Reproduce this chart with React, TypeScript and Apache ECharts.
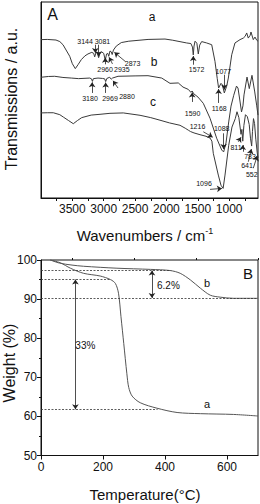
import React, { useEffect, useRef } from "react";
import * as echarts from "echarts";

const FONT = "'Liberation Sans', Arial, Helvetica, sans-serif";
const INK = "#111";

// ---------- Panel A : FTIR spectra [wavenumber (cm-1), transmission (a.u.)] ----------
const spectrumA: number[][] = [
  [4000, 80.8], [3900, 80.9], [3761, 80.6], [3700, 79.8], [3649, 78.2], [3600, 75.5], [3542, 72.3],
  [3500, 68.5], [3453, 66.0], [3410, 68.0], [3357, 70.6], [3300, 72.5], [3251, 73.5], [3190, 74.3],
  [3160, 73.8], [3144, 72.0], [3125, 74.0], [3105, 74.4], [3081, 71.6], [3060, 73.8], [3030, 74.5],
  [3000, 73.8], [2975, 70.2], [2955, 73.5], [2935, 73.8], [2920, 72.3], [2900, 75.0], [2880, 74.6],
  [2865, 73.2], [2845, 75.5], [2800, 77.5], [2720, 79.3], [2600, 80.0], [2293, 80.9], [2023, 81.1],
  [1900, 80.5], [1677, 79.1], [1610, 78.8], [1585, 77.0], [1572, 73.0], [1560, 77.5], [1544, 80.0],
  [1515, 79.0], [1492, 73.5], [1470, 78.0], [1438, 79.8], [1358, 79.1], [1278, 78.2], [1226, 69.7],
  [1190, 61.0], [1168, 56.1], [1130, 58.5], [1109, 57.8], [1077, 53.6], [1040, 57.0], [1013, 61.2],
  [959, 73.1], [907, 79.1], [827, 80.8], [774, 81.6], [745, 82.5], [720, 84.2], [695, 81.6],
  [665, 83.0], [652, 84.7], [615, 80.8], [588, 82.1], [560, 80.5], [540, 80.0],
];

const spectrumB: number[][] = [
  [4000, 61.6], [3880, 62.0], [3782, 62.1], [3650, 61.5], [3517, 61.2], [3400, 60.9], [3223, 61.2],
  [3195, 60.8], [3180, 59.5], [3165, 60.9], [3091, 61.2], [3020, 61.0], [2985, 60.8], [2969, 59.4],
  [2950, 61.0], [2905, 61.6], [2880, 60.6], [2860, 61.2], [2772, 62.1], [2500, 62.3], [2294, 62.4],
  [2075, 61.2], [1943, 58.5], [1811, 58.7], [1736, 56.6], [1651, 55.4], [1610, 53.9], [1590, 54.6],
  [1565, 53.2], [1497, 51.5], [1412, 48.3], [1305, 40.7], [1199, 30.5], [1119, 24.5], [1088, 23.5],
  [1050, 28.1], [1007, 38.8], [970, 46.9], [927, 52.4], [883, 57.1], [859, 56.1], [830, 50.0],
  [803, 43.9], [780, 47.0], [763, 52.6], [715, 61.7], [679, 55.8], [636, 62.6], [592, 54.1],
  [560, 47.0], [540, 42.3],
];

const spectrumC: number[][] = [
  [4000, 43.4], [3900, 43.5], [3804, 43.5], [3700, 42.5], [3644, 41.3], [3560, 39.5], [3485, 37.9],
  [3420, 39.5], [3351, 41.0], [3200, 42.3], [3059, 42.7], [2900, 43.2], [2688, 43.4], [2421, 42.2],
  [2250, 41.0], [2103, 39.7], [1950, 38.3], [1784, 37.1], [1700, 35.6], [1651, 34.6], [1616, 33.9],
  [1560, 33.2], [1465, 32.3], [1369, 31.5], [1305, 30.6], [1275, 29.0], [1253, 22.8], [1173, 11.7],
  [1130, 6.5], [1096, 4.9], [1066, 11.7], [1007, 26.9], [955, 36.2], [902, 40.5], [875, 44.0],
  [845, 41.0], [811, 32.5], [797, 35.0], [783, 29.0], [765, 37.0], [740, 42.5], [710, 41.5],
  [680, 37.5], [660, 30.5], [641, 26.5], [628, 34.0], [612, 40.5], [595, 38.0], [575, 30.0],
  [552, 23.0], [540, 20.5],
];

const tickValuesA = [3750, 3500, 3250, 3000, 2750, 2500, 2250, 2000, 1750, 1500, 1250, 1000, 750];
const labelValuesA = [3500, 3000, 2500, 2000, 1500, 1000];

// peak annotations: [text, wavenumber, transmission]
const peakLabelsA: [string, number, number][] = [
  ["3144", 3298, 80.0], ["3081", 3020, 80.0], ["2960", 2978, 65.5], ["2935", 2712, 65.5],
  ["2873", 2540, 68.4], ["3180", 3219, 51.0], ["2969", 2900, 51.0], ["2880", 2629, 51.9],
  ["1572", 1520, 65.5], ["1077", 1093, 64.6], ["1168", 1159, 45.9], ["1590", 1584, 43.2],
  ["1216", 1505, 36.4], ["1088", 1119, 35.6], ["811", 891, 25.7], ["783", 667, 21.1],
  ["641", 715, 16.5], ["552", 640, 12.1], ["1096", 1401, 7.5],
];
// arrows: [from wn, from T, to wn, to T]
const peakArrowsA: number[][] = [
  [3134, 78.2, 3134, 74.0], [3081, 78.2, 3081, 72.3], [2975, 68.2, 2975, 71.6],
  [2860, 68.4, 2915, 71.8], [2650, 69.5, 2830, 74.3], [3185, 53.6, 3185, 59.0],
  [2969, 53.6, 2969, 58.9], [2772, 56.1, 2852, 59.8], [1572, 68.0, 1572, 72.4],
  [1077, 62.9, 1077, 55.3], [1168, 48.5, 1168, 55.6], [1590, 49.0, 1590, 53.8],
  [1412, 33.8, 1262, 31.0], [1088, 33.0, 1088, 25.0], [854, 28.7, 811, 31.0],
  [783, 23.6, 783, 27.0], [694, 18.5, 645, 25.0], [615, 15.2, 552, 21.5],
  [1305, 4.4, 1115, 4.9],
];
const curveLabelsA: [string, number, number][] = [
  ["a", 2230, 92.3], ["b", 2198, 69.4], ["c", 2214, 49.0],
];

// ---------- Panel B : TGA [temperature (°C), weight (%)] ----------
const tgaA: number[][] = [
  [30, 100], [62, 99.3], [95, 97.9], [137, 96.6], [191, 95.9], [224, 95.0], [240, 94.0], [250, 91.5],
  [258, 85.5], [267, 78.6], [277, 70.9], [283, 67.4], [294, 65.2], [320, 63.5], [374, 62.1],
  [439, 61.0], [514, 60.7], [621, 60.5], [700, 60.1],
];
const tgaB: number[][] = [
  [30, 100], [60, 99.2], [100, 98.7], [137, 98.4], [245, 97.9], [353, 97.6], [417, 97.3],
  [449, 96.6], [482, 94.9], [514, 92.8], [546, 91.0], [578, 90.5], [621, 90.2], [700, 90.2],
];
const guideLinesB: number[][] = [
  [0, 97.3, 420], [0, 95.0, 226], [0, 90.3, 700], [0, 61.8, 376],
];
const stepArrowsB: number[][] = [
  [358, 97.3, 358, 90.3], [111, 95.0, 111, 61.8],
];
const textLabelsB: [string, number, number, number][] = [
  ["b", 536, 94.1, 11], ["a", 536, 63.1, 11], ["6.2%", 411, 93.6, 10], ["33%", 143, 78.2, 10],
];
const majorTicksBx = [0, 200, 400, 600];
const minorTicksBx = [100, 300, 500, 700];

function buildOption(): echarts.EChartsOption {
  const axisLine = { show: true, onZero: false, lineStyle: { color: INK, width: 1 } };
  const labelStyle = { color: INK, fontSize: 12, fontFamily: FONT, formatter: (v: number) => String(v) };
  const gridBox = { show: true, borderColor: INK, borderWidth: 1, backgroundColor: "transparent" };
  return {
    animation: false,
    textStyle: { fontFamily: FONT },
    grid: [
      { left: 41, top: 2, width: 217, height: 196, ...gridBox },
      { left: 41, top: 260, width: 217, height: 195.5, ...gridBox },
    ],
    xAxis: [
      {
        gridIndex: 0, type: "value", min: 540, max: 4000, inverse: true,
        axisLine, splitLine: { show: false },
        axisTick: { show: true, length: 3, customValues: tickValuesA, lineStyle: { color: INK } },
        axisLabel: { ...labelStyle, margin: 5, customValues: labelValuesA },
      },
      {
        gridIndex: 1, type: "value", min: 0, max: 700,
        axisLine, splitLine: { show: false },
        axisTick: { show: true, length: 4, customValues: majorTicksBx, lineStyle: { color: INK } },
        axisLabel: { ...labelStyle, margin: 5, customValues: majorTicksBx },
      },
      {
        gridIndex: 1, type: "value", min: 0, max: 700,
        axisLine: { show: false }, splitLine: { show: false },
        axisTick: { show: true, length: 2, customValues: minorTicksBx, lineStyle: { color: INK } },
        axisLabel: { show: false },
      },
    ],
    yAxis: [
      {
        gridIndex: 0, type: "value", min: 0, max: 100,
        axisLine, axisTick: { show: false }, axisLabel: { show: false }, splitLine: { show: false },
      },
      {
        gridIndex: 1, type: "value", min: 50, max: 100, interval: 10,
        axisLine, splitLine: { show: false },
        axisTick: { show: true, length: 4, lineStyle: { color: INK } },
        minorTick: { show: true, splitNumber: 2, length: 2, lineStyle: { color: INK } },
        axisLabel: { ...labelStyle, margin: 4 },
      },
    ],
    series: [
      {
        type: "line", xAxisIndex: 0, yAxisIndex: 0, data: spectrumA, showSymbol: false,
        lineStyle: { color: "#3a3a3a", width: 1 }, silent: true,
        markPoint: {
          symbol: "circle", symbolSize: 0, silent: true,
          label: { show: true, position: "inside", color: INK, fontSize: 7, fontFamily: FONT, formatter: "{b}" },
          data: peakLabelsA.map(([t, x, y]) => ({ name: t, coord: [x, y] })),
        },
        markLine: {
          symbol: ["none", "arrow"], symbolSize: 5, silent: true,
          label: { show: false },
          lineStyle: { color: "#222", width: 0.8, type: "solid" },
          data: peakArrowsA.map(([x1, y1, x2, y2]) => [{ coord: [x1, y1] }, { coord: [x2, y2] }]) as any,
        },
      },
      {
        type: "line", xAxisIndex: 0, yAxisIndex: 0, data: spectrumB, showSymbol: false,
        lineStyle: { color: "#3a3a3a", width: 1 }, silent: true,
        markPoint: {
          symbol: "circle", symbolSize: 0, silent: true,
          label: { show: true, position: "inside", color: INK, fontSize: 12, fontFamily: FONT, formatter: "{b}" },
          data: curveLabelsA.map(([t, x, y]) => ({ name: t, coord: [x, y] })),
        },
      },
      {
        type: "line", xAxisIndex: 0, yAxisIndex: 0, data: spectrumC, showSymbol: false,
        lineStyle: { color: "#3a3a3a", width: 1 }, silent: true,
      },
      {
        type: "line", xAxisIndex: 1, yAxisIndex: 1, data: tgaA, showSymbol: false, smooth: 0.3,
        lineStyle: { color: "#555", width: 1 }, silent: true,
        markLine: {
          symbol: ["none", "none"], silent: true, label: { show: false },
          lineStyle: { color: "#333", width: 0.8, type: [2, 1.5] },
          data: guideLinesB.map(([x1, y, x2]) => [{ coord: [x1, y] }, { coord: [x2, y] }]) as any,
        },
      },
      {
        type: "line", xAxisIndex: 1, yAxisIndex: 1, data: tgaB, showSymbol: false, smooth: 0.3,
        lineStyle: { color: "#555", width: 1 }, silent: true,
        markLine: {
          symbol: ["arrow", "arrow"], symbolSize: 5, silent: true, label: { show: false },
          lineStyle: { color: "#222", width: 0.8, type: "solid" },
          data: stepArrowsB.map(([x1, y1, x2, y2]) => [{ coord: [x1, y1] }, { coord: [x2, y2] }]) as any,
        },
        markPoint: {
          symbol: "circle", symbolSize: 0, silent: true,
          data: textLabelsB.map(([t, x, y, fs]) => ({
            name: t, coord: [x, y],
            label: { show: true, position: "inside", color: INK, fontSize: fs, fontFamily: FONT, formatter: t },
          })),
        },
      },
    ],
    graphic: [
      {
        type: "text", x: 11, y: 99, rotation: Math.PI / 2,
        style: { text: "Transmissions / a.u.", fontSize: 16, fontFamily: FONT, fill: INK, align: "center", verticalAlign: "middle" },
      },
      {
        type: "text", x: 145, y: 235,
        style: {
          text: "{m|Wavenumbers / cm}{s|-1}", fill: INK, align: "center", verticalAlign: "middle",
          rich: {
            m: { fontSize: 15, fontFamily: FONT, fill: INK, lineHeight: 18 },
            s: { fontSize: 9, fontFamily: FONT, fill: INK, verticalAlign: "top", lineHeight: 10 },
          },
        } as any,
      },
      {
        type: "text", x: 52.5, y: 14,
        style: { text: "A", fontSize: 16, fontFamily: FONT, fill: INK, align: "center", verticalAlign: "middle" },
      },
      {
        type: "text", x: 9, y: 363, rotation: Math.PI / 2,
        style: { text: "Weight (%)", fontSize: 16, fontFamily: FONT, fill: INK, align: "center", verticalAlign: "middle" },
      },
      {
        type: "text", x: 145, y: 494.5,
        style: { text: "Temperature(°C)", fontSize: 15, fontFamily: FONT, fill: INK, align: "center", verticalAlign: "middle" },
      },
      {
        type: "text", x: 248, y: 273,
        style: { text: "B", fontSize: 15, fontFamily: FONT, fill: INK, align: "center", verticalAlign: "middle" },
      },
    ],
  } as echarts.EChartsOption;
}

export default function App() {
  const ref = useRef<HTMLDivElement>(null);
  useEffect(() => {
    document.body.style.margin = "0";
    const chart = echarts.init(ref.current!, null, { renderer: "svg" });
    chart.setOption(buildOption());
    return () => chart.dispose();
  }, []);
  return <div ref={ref} style={{ width: 260, height: 504, background: "#fff" }} />;
}
